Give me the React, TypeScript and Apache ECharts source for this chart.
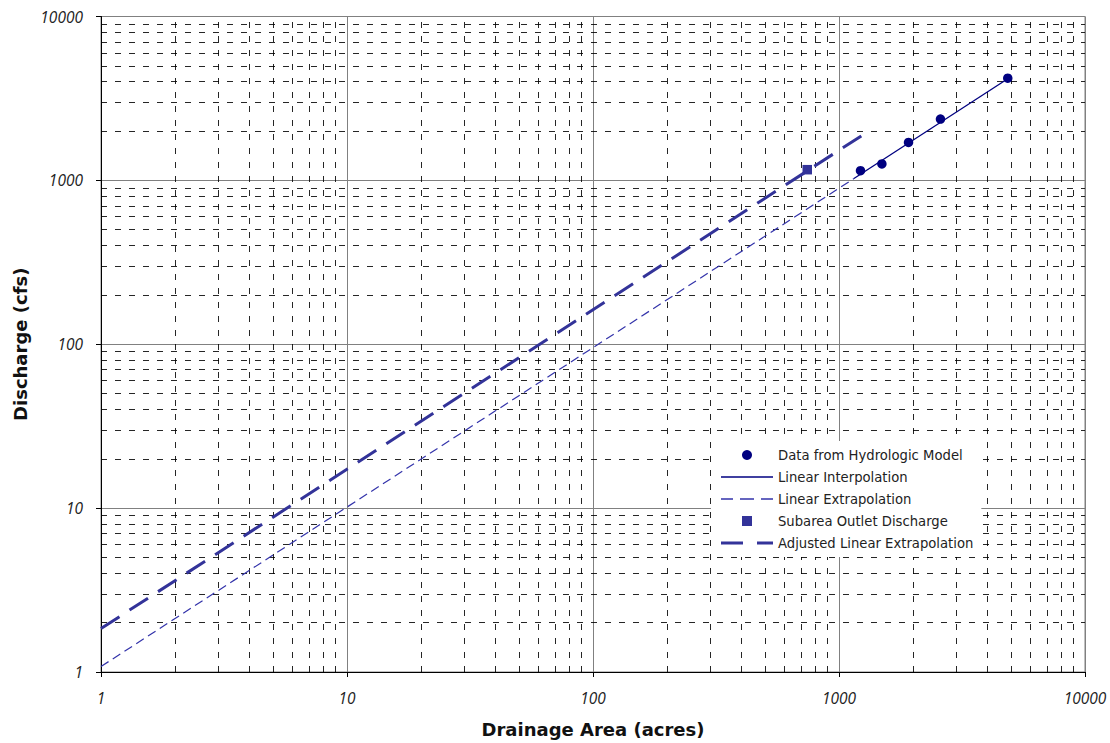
import React, { useEffect, useRef } from "react";
import * as echarts from "echarts";

// Data
const hydroArea = [1223, 1494, 1917, 2585, 4853];
const hydroQ = [1146, 1259, 1703, 2366, 4204];

const interpArea = [1150, 4853];
const interpQ = [1026, 4170];

const extrapArea = [1, 1150];
const extrapQ = [1.08, 1026];

const outletArea = [743];
const outletQ = [1162];

const adjArea = [1, 1240];
const adjQ = [1.84, 1880];

const decades = [1, 10, 100, 1000];
const minorMultipliers = [2, 3, 4, 5, 6, 7, 8, 9];

const seriesNames = [
  "Data from Hydrologic Model",
  "Linear Interpolation",
  "Linear Extrapolation",
  "Subarea Outlet Discharge",
  "Adjusted Linear Extrapolation",
];

const zip = (xs: number[], ys: number[]) => xs.map((x, i) => [x, ys[i]]);

export default function App() {
  const ref = useRef<HTMLDivElement>(null);
  useEffect(() => {
    if (!ref.current) return;
    const chart = echarts.init(ref.current, undefined, { renderer: "svg" });
    const minorVals: number[] = [];
    decades.forEach((d) => minorMultipliers.forEach((m) => minorVals.push(d * m)));
    const gridMarks = [
      ...minorVals.map((v) => ({ xAxis: v })),
      ...minorVals.map((v) => ({ yAxis: v })),
    ];
    const tickFont = {
      fontFamily: "Open Sans",
      fontStyle: "italic" as const,
      fontSize: 15.5,
      color: "#222",
      formatter: (v: number) => String(v),
    };
    const titleFont = {
      fontFamily: "DejaVu Sans",
      fontWeight: "bold" as const,
      fontSize: 18,
      color: "#111",
    };
    const noStroke = { borderWidth: 0, opacity: 1 };
    chart.setOption({
      animation: false,
      backgroundColor: "#fff",
      grid: {
        left: 101,
        right: 25,
        top: 16.5,
        bottom: 70,
        show: true,
        borderColor: "#808080",
        borderWidth: 1,
        backgroundColor: "#fff",
      },
      legend: {
        data: [
          { name: seriesNames[0], icon: "circle", itemStyle: { color: "#000080", ...noStroke } },
          {
            name: seriesNames[1],
            icon: "path://M0,0h52v1.4h-52z",
            itemStyle: { color: "#000080", ...noStroke },
            lineStyle: { width: 0 },
          },
          {
            name: seriesNames[2],
            icon: "path://M0,0h12v1.5h-12z M19,0h14v1.5h-14z M40,0h12v1.5h-12z",
            itemStyle: { color: "#3333aa", ...noStroke },
            lineStyle: { width: 0 },
          },
          {
            name: seriesNames[3],
            icon: "path://M0,0h9v9h-9z",
            itemStyle: { color: "#333399", ...noStroke },
          },
          {
            name: seriesNames[4],
            icon: "path://M0,0h22v3h-22z M36,0h16v3h-16z",
            itemStyle: { color: "#333399", ...noStroke },
            lineStyle: { width: 0 },
          },
        ],
        orient: "vertical",
        left: 711,
        top: 441,
        z: 20,
        padding: [7, 8, 7, 10],
        backgroundColor: "#fff",
        itemWidth: 52,
        itemHeight: 10,
        itemGap: 8,
        selectedMode: false,
        textStyle: {
          fontFamily: "DejaVu Sans",
          fontSize: 13.2,
          color: "#222",
          lineHeight: 14,
        },
      },
      xAxis: {
        type: "log",
        logBase: 10,
        min: 1,
        max: 10000,
        name: "Drainage Area (acres)",
        nameLocation: "middle",
        nameGap: 48,
        nameTextStyle: titleFont,
        axisLine: { show: true, lineStyle: { color: "#000", width: 1 } },
        axisTick: { show: true, inside: false, length: 5, lineStyle: { color: "#000" } },
        axisLabel: { ...tickFont, margin: 18 },
        splitLine: { show: true, lineStyle: { color: "#808080", width: 1 } },
      },
      yAxis: {
        type: "log",
        logBase: 10,
        min: 1,
        max: 10000,
        name: "Discharge (cfs)",
        nameLocation: "middle",
        nameGap: 70,
        nameRotate: 90,
        nameTextStyle: titleFont,
        axisLine: { show: true, lineStyle: { color: "#000", width: 1 } },
        axisTick: { show: true, inside: false, length: 5, lineStyle: { color: "#000" } },
        axisLabel: { ...tickFont, margin: 18 },
        splitLine: { show: true, lineStyle: { color: "#808080", width: 1 } },
      },
      series: [
        {
          name: "__grid",
          type: "line",
          data: [],
          symbol: "none",
          silent: true,
          z: 1,
          markLine: {
            silent: true,
            z: 1,
            symbol: ["none", "none"],
            label: { show: false },
            lineStyle: { color: "#000", type: [6, 8], width: 1, opacity: 0.85 },
            emphasis: { disabled: true },
            data: gridMarks,
          },
        },
        {
          name: seriesNames[2],
          type: "line",
          data: zip(extrapArea, extrapQ),
          symbol: "none",
          z: 3,
          lineStyle: { color: "#3333aa", width: 1.2, type: [9, 5], opacity: 1 },
          itemStyle: { color: "#3333aa" },
        },
        {
          name: seriesNames[4],
          type: "line",
          data: zip(adjArea, adjQ),
          symbol: "none",
          z: 3,
          lineStyle: { color: "#333399", width: 3, type: [22, 12], opacity: 1 },
          itemStyle: { color: "#333399" },
        },
        {
          name: seriesNames[1],
          type: "line",
          data: zip(interpArea, interpQ),
          symbol: "none",
          z: 3,
          lineStyle: { color: "#000080", width: 1.3, opacity: 1 },
          itemStyle: { color: "#000080" },
        },
        {
          name: seriesNames[0],
          type: "scatter",
          data: zip(hydroArea, hydroQ),
          symbol: "circle",
          symbolSize: 9.5,
          z: 4,
          itemStyle: { color: "#000080", opacity: 1 },
        },
        {
          name: seriesNames[3],
          type: "scatter",
          data: zip(outletArea, outletQ),
          symbol: "rect",
          symbolSize: 9.5,
          z: 4,
          itemStyle: { color: "#333399", opacity: 1 },
        },
      ],
    });
    return () => chart.dispose();
  }, []);
  return (
    <div
      ref={ref}
      style={{ position: "fixed", left: 0, top: 0, width: 1110, height: 743, background: "#fff" }}
    />
  );
}
